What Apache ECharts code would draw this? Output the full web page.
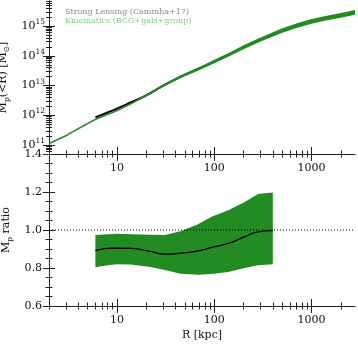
<!DOCTYPE html>
<html>
<head>
<meta charset="utf-8">
<script src="https://cdn.jsdelivr.net/npm/echarts@6/dist/echarts.min.js"></script>
<style>
  html, body { margin: 0; padding: 0; background: #fff; }
  #chart { width: 358px; height: 344px; }
</style>
</head>
<body>
<div id="chart"></div>
<script>
// kinematics band (BCG+gals+group), top panel
var rKin = [2, 3, 4, 6, 8, 10, 14, 20, 30, 45, 70, 100, 150, 200, 300, 500, 700, 1000, 1400, 2000, 2800]
var mKinLo = [1.05e11, 1.95e11, 3.31e11, 6.76e11, 1.0e12, 1.35e12, 2.3e12, 4.32e12, 9.12e12, 1.80e13, 3.3e13, 5.69e13, 1.05e14, 1.68e14, 3.02e14, 5.96e14, 8.6e14, 1.20e15, 1.55e15, 1.91e15, 2.40e15]
var mKinHi = [1.20e11, 2.24e11, 3.80e11, 7.76e11, 1.15e12, 1.55e12, 2.65e12, 5.07e12, 1.10e13, 2.21e13, 4.15e13, 7.33e13, 1.38e14, 2.26e14, 4.17e14, 8.41e14, 1.22e15, 1.74e15, 2.2e15, 2.75e15, 3.47e15]

// strong lensing (Caminha+17)
var rLens = [6, 8, 10, 14, 20, 30, 50, 100, 200, 300, 400]
var mLens = [8.5e11, 1.24e12, 1.68e12, 2.75e12, 4.7e12, 1.0e13, 2.3e13, 6.4e13, 1.95e14, 3.55e14, 5.25e14]

// mass ratio, bottom panel
var rRatio = [6, 8, 10, 14, 22, 31, 45, 68, 94, 139, 206, 282, 400]
var ratioMid = [0.892, 0.903, 0.904, 0.903, 0.887, 0.873, 0.878, 0.89, 0.908, 0.929, 0.965, 0.99, 0.997]
var ratioLo = [0.804, 0.815, 0.82, 0.818, 0.805, 0.79, 0.77, 0.765, 0.768, 0.779, 0.80, 0.814, 0.82]
var ratioHi = [0.974, 0.978, 0.98, 0.978, 0.975, 0.974, 0.993, 1.03, 1.07, 1.104, 1.148, 1.19, 1.197]

var xMajor = [10, 100, 1000]
var xMinor = [2, 3, 4, 5, 6, 7, 8, 9, 20, 30, 40, 50, 60, 70, 80, 90, 200, 300, 400, 500, 600, 700, 800, 900, 2000]
var yMajor = [1e11, 1e12, 1e13, 1e14, 1e15]
var yMinor = [6e10, 7e10, 8e10, 9e10]
;[1e11, 1e12, 1e13, 1e14, 1e15].forEach(function (d) {
  for (var k = 2; k <= 9; k++) if (k * d <= 7e15) yMinor.push(k * d)
})
var rMajor = [0.6, 0.8, 1.0, 1.2, 1.4]
var rMinor = [0.65, 0.7, 0.75, 0.85, 0.9, 0.95, 1.05, 1.1, 1.15, 1.25, 1.3, 1.35]

var X_MIN = 2, X_MAX = 2800, Y_MIN = 5e10, Y_MAX = 7e15
var FONT = 'DejaVu Serif'
var AX = '#222'
var GREEN = '#228b22'
var lg = function (v) { return Math.log10(v) }
var PANELS = [
  { left: 49, right: 3, top: 1, height: 153, outerBoundsMode: 'none', containLabel: false },
  { left: 49, right: 3, top: 154, height: 152, outerBoundsMode: 'none', containLabel: false },
]

var chartDom = document.getElementById('chart')
var myChart = echarts.init(chartDom)

var grids = PANELS.map(function (p) { return Object.assign({}, p) })

// data axes (log scales), carry the labels
var xAxes = [
  { type: 'log', gridIndex: 0, position: 'bottom', min: X_MIN, max: X_MAX },
  { type: 'log', gridIndex: 1, position: 'bottom', min: X_MIN, max: X_MAX, name: 'R [kpc]' },
]
xAxes.forEach(function (a) {
  a.logBase = 10
  a.axisLine = { show: true, lineStyle: { color: AX } }
  a.axisTick = { show: false }
  a.splitLine = { show: false }
  a.axisLabel = { customValues: xMajor, fontFamily: FONT, fontSize: 11, color: '#111', margin: 9,
    formatter: function (v) { return String(Math.round(v)) } }
  a.nameLocation = 'middle'
  a.nameGap = 24
  a.nameTextStyle = { fontFamily: FONT, fontSize: 11, color: '#111' }
})
var yAxes = [
  {
    type: 'log', logBase: 10, gridIndex: 0, position: 'left', min: Y_MIN, max: Y_MAX,
    axisLine: { show: true, lineStyle: { color: AX } },
    axisTick: { show: false },
    splitLine: { show: false },
    axisLabel: { customValues: yMajor, margin: 4, color: '#111',
      formatter: function (v) { return '{b|10}{s|' + Math.round(Math.log10(v)) + '}' },
      rich: {
        b: { fontFamily: FONT, fontSize: 11, color: '#111' },
        s: { fontFamily: FONT, fontSize: 7.5, color: '#111', padding: [0, 0, 8, 0] },
      } },
    name: 'M{s|p}(<R) [M{s|⊙}]',
    nameLocation: 'middle', nameRotate: 90, nameGap: 30,
    nameTextStyle: { fontFamily: FONT, fontSize: 11, color: '#111',
      rich: { s: { fontFamily: FONT, fontSize: 7.5, color: '#111', padding: [7, 0, 0, 0] } } },
  },
  {
    type: 'value', gridIndex: 1, position: 'left', min: 0.6, max: 1.4, interval: 0.2,
    axisLine: { show: true, lineStyle: { color: AX } },
    axisTick: { show: false },
    splitLine: { show: false },
    axisLabel: { margin: 7, fontFamily: FONT, fontSize: 11, color: '#111',
      formatter: function (v) { return v.toFixed(1) } },
    name: 'M{s|p} ratio',
    nameLocation: 'middle', nameRotate: 90, nameGap: 29,
    nameTextStyle: { fontFamily: FONT, fontSize: 11, color: '#111',
      rich: { s: { fontFamily: FONT, fontSize: 7.5, color: '#111', padding: [7, 0, 0, 0] } } },
  },
]

// every tick set gets its own overlay grid (one x and one y axis each),
// values in log10 units for the log scales
function addTicks(panel, dim, pos, min, max, vals, len, line) {
  var g = grids.length
  grids.push(Object.assign({}, PANELS[panel]))
  var tick = {
    type: 'value', gridIndex: g, position: pos, min: min, max: max,
    axisLine: { show: line, lineStyle: { color: AX } },
    axisTick: { show: true, inside: true, length: len, customValues: vals, lineStyle: { color: AX, width: 1 } },
    axisLabel: { show: false },
    splitLine: { show: false },
  }
  var other = { type: 'value', gridIndex: g, min: 0, max: 1, show: false }
  if (dim === 'x') { xAxes.push(tick); yAxes.push(other) } else { yAxes.push(tick); xAxes.push(other) }
}
;[0, 1].forEach(function (p) {
  ;['bottom', 'top'].forEach(function (pos) {
    addTicks(p, 'x', pos, lg(X_MIN), lg(X_MAX), xMajor.map(lg), 7, pos === 'top')
    addTicks(p, 'x', pos, lg(X_MIN), lg(X_MAX), xMinor.map(lg), 3.5, false)
  })
  ;['left', 'right'].forEach(function (pos) {
    if (p === 0) {
      addTicks(p, 'y', pos, lg(Y_MIN), lg(Y_MAX), yMajor.map(lg), 6, pos === 'right')
      addTicks(p, 'y', pos, lg(Y_MIN), lg(Y_MAX), yMinor.map(lg), 3, false)
    } else {
      addTicks(p, 'y', pos, 0.6, 1.4, rMajor, 6, pos === 'right')
      addTicks(p, 'y', pos, 0.6, 1.4, rMinor, 3.5, false)
    }
  })
})

function bandSeries(xs, lo, hi, xi, yi, color, z) {
  return {
    type: 'custom', xAxisIndex: xi, yAxisIndex: yi, silent: true, z: z,
    data: [[xs[0], lo[0]]],
    renderItem: function (params, api) {
      var pts = []
      for (var i = 0; i < xs.length; i++) pts.push(api.coord([xs[i], hi[i]]))
      for (var j = xs.length - 1; j >= 0; j--) pts.push(api.coord([xs[j], lo[j]]))
      return { type: 'polygon', shape: { points: pts }, style: { fill: color } }
    },
  }
}

function pairs(xs, ys) {
  return xs.map(function (x, i) { return [x, ys[i]] })
}

var option = {
  backgroundColor: '#fff',
  animation: false,
  grid: grids,
  xAxis: xAxes,
  yAxis: yAxes,
  graphic: [
    { type: 'text', left: 65, top: 8, style: { text: 'Strong Lensing (Caminha+17)', fontFamily: FONT, fontSize: 8, fill: '#8a8a8a' } },
    { type: 'text', left: 65, top: 17, style: { text: 'Kinematics (BCG+gals+group)', fontFamily: FONT, fontSize: 8, fill: '#7fcf7f' } },
  ],
  series: [
    {
      type: 'line', xAxisIndex: 0, yAxisIndex: 0, data: pairs(rLens, mLens), smooth: true,
      showSymbol: false, z: 2, lineStyle: { color: '#000', width: 2 },
    },
    bandSeries(rKin, mKinLo, mKinHi, 0, 0, GREEN, 3),
    bandSeries(rRatio, ratioLo, ratioHi, 1, 1, GREEN, 2),
    {
      type: 'line', xAxisIndex: 1, yAxisIndex: 1, data: [[X_MIN, 1], [X_MAX, 1]],
      showSymbol: false, z: 3, lineStyle: { color: '#000', width: 1, type: [1, 2] },
    },
    {
      type: 'line', xAxisIndex: 1, yAxisIndex: 1, data: pairs(rRatio, ratioMid), smooth: true,
      showSymbol: false, z: 4, lineStyle: { color: '#000', width: 1.3 },
    },
  ],
}

option && myChart.setOption(option)
</script>
</body>
</html>
